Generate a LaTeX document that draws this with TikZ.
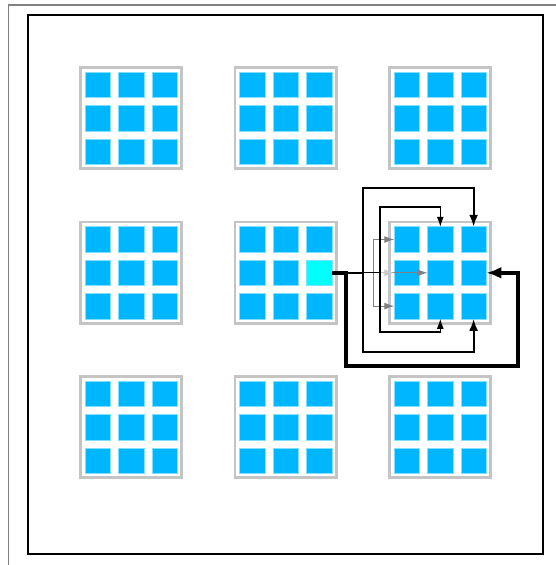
\documentclass[tikz,border=0pt]{standalone}
\usetikzlibrary{arrows.meta}
\definecolor{cellblue}{HTML}{00B7FF}
\definecolor{celledge}{HTML}{80E0FF}
\definecolor{framegray}{HTML}{C4C4C4}
\definecolor{hot}{HTML}{00FFFF}
\definecolor{lgray}{HTML}{C8C8C8}
\definecolor{mgray}{HTML}{808080}
\tikzset{
  cell/.style={draw=celledge, line width=0.6pt, fill=cellblue, minimum size=25.5pt, inner sep=0pt, outer sep=0pt},
  hotcell/.style={cell, fill=hot},
  gridframe/.style={draw=framegray, line width=2.6pt, fill=white},
  thickc/.style={line width=4.5pt, -{Latex[length=15pt,width=12pt]}},
  medc/.style={line width=2.2pt, -{Latex[length=12pt,width=9pt]}},
  thinc/.style={line width=1.1pt, -{Latex[length=10pt,width=7pt]}},
  grayc/.style={draw=mgray, line width=1pt, -{Latex[length=10pt,width=7pt]}, mgray},
  lgrayc/.style={draw=lgray, line width=1pt, -{Latex[length=10pt,width=7pt]}, lgray},
}
\begin{document}
\begin{tikzpicture}[x=1pt,y=-1pt]
\useasboundingbox (0,0) rectangle (555,565);
\fill[white] (0,0) rectangle (555,565);
\draw[mgray, line width=1.4pt] (8.5,570) -- (8.5,5) -- (560,5);
\draw[black, line width=2.2pt] (28,15) rectangle (543,554);
\foreach \gi in {0,1,2}{
  \foreach \gj in {0,1,2}{
    \draw[gridframe] ({80.3+154.5*\gj},{67.3+154.5*\gi}) rectangle ({181.7+154.5*\gj},{168.7+154.5*\gi});
    \foreach \r in {0,1,2}{
      \foreach \c in {0,1,2}{
        \node[cell] (g\gi\gj-\r\c) at ({98+154.5*\gj+33.3*\c},{85+154.5*\gi+33.3*\r}) {};
      }
    }
  }
}
\node[hotcell] (src) at (g11-12) {};
% bend points
\coordinate (jA) at (346,366);
\coordinate (jB) at (518,366);
\coordinate (mT) at (363,188);
\coordinate (mB) at (363,352);
\coordinate (tT) at (380,207);
\coordinate (tB) at (380,332);
\coordinate (gx) at (373,0);
% connectors
\draw[grayc] (src.east) -- (g12-11.west);
\draw[lgrayc] (src.east) -- (g12-10.west);
\draw[grayc] (src.east) -| (gx |- g12-00.west) -- (g12-00.west);
\draw[grayc] (src.east) -| (gx |- g12-20.west) -- (g12-20.west);
\draw[thinc] (src.east) -| (tT) -| (g12-01.north);
\draw[thinc] (src.east) -| (tB) -| (g12-21.south);
\draw[medc] (src.east) -| (mT) -| (g12-02.north);
\draw[medc] (src.east) -| (mB) -| (g12-22.south);
\draw[thickc] (src.east) -| (jA) -- (jB) |- (g12-12.east);
\end{tikzpicture}
\end{document}
